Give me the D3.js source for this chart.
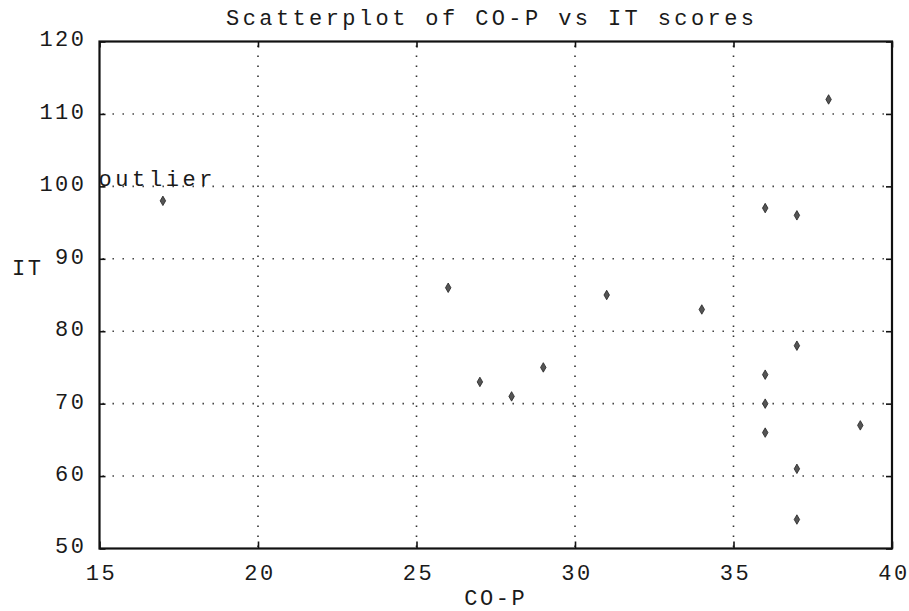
<!DOCTYPE html>
<html>
<head>
<meta charset="utf-8">
<script src="https://cdn.jsdelivr.net/npm/d3@7/dist/d3.min.js"></script>
<style>
  html, body { margin: 0; padding: 0; background: #fff; }
  svg { display: block; }
  text { font-family: "Liberation Mono", "Courier New", monospace; fill: #1a1a1a; }
</style>
</head>
<body>
<svg id="chart" width="909" height="611"></svg>
<script>
// ---- data ----
const coP = [17, 26, 27, 28, 29, 31, 34, 36, 36, 36, 36, 37, 37, 37, 37, 38, 39];
const itScores = [98, 86, 73, 71, 75, 85, 83, 97, 74, 70, 66, 96, 78, 61, 54, 112, 67];
const xTicks = [15, 20, 25, 30, 35, 40];
const yTicks = [50, 60, 70, 80, 90, 100, 110, 120];
const titleText = "Scatterplot of CO-P vs IT scores";
const xLabel = "CO-P";
const yLabel = "IT";
const annotation = { text: "outlier", x: 15, y: 100 };

// ---- layout ----
const svg = d3.select("#chart");
const L = 99.5, R = 892, T = 41.5, B = 548.5;
const x = d3.scaleLinear().domain([15, 40]).range([L, R]);
const y = d3.scaleLinear().domain([50, 120]).range([B, T]);

// gridlines (dotted)
const grid = svg.append("g").attr("stroke", "#333").attr("stroke-width", 1.6)
  .attr("stroke-dasharray", "1.4,8.6").attr("fill", "none");
grid.selectAll("line.gx").data(xTicks.slice(1, -1)).join("line")
  .attr("x1", d => x(d)).attr("x2", d => x(d)).attr("y1", T + 4).attr("y2", B);
grid.selectAll("line.gy").data(yTicks.slice(1, -1)).join("line")
  .attr("class", "gy")
  .attr("y1", d => y(d)).attr("y2", d => y(d)).attr("x1", L + 3).attr("x2", R);

// axes
const tickStyle = g => {
  g.select(".domain").remove();
  g.selectAll(".tick line").attr("stroke", "#111").attr("stroke-width", 1.6);
};
const fontTick = g => g.selectAll("text")
  .style("font-size", "22px").style("letter-spacing", "2.5px").attr("fill", "#1a1a1a");

svg.append("g").attr("transform", `translate(0,${B})`)
  .call(d3.axisBottom(x).tickValues(xTicks).tickSize(-7).tickPadding(16).tickFormat(d3.format("d")))
  .call(tickStyle).call(fontTick)
  .call(g => g.selectAll("text").attr("dx", "1.5px"));

svg.append("g").attr("transform", `translate(0,${T})`)
  .call(d3.axisTop(x).tickValues(xTicks).tickSize(-6).tickFormat(""))
  .call(tickStyle);

svg.append("g").attr("transform", `translate(${L},0)`)
  .call(d3.axisLeft(y).tickValues(yTicks).tickSize(-6).tickPadding(13).tickFormat(d3.format("d")))
  .call(tickStyle).call(fontTick)
  .call(g => g.selectAll("text").attr("dy", "0.2em"));

svg.append("g").attr("transform", `translate(${R},0)`)
  .call(d3.axisRight(y).tickValues(yTicks).tickSize(-6).tickFormat(""))
  .call(tickStyle);

// frame
svg.append("rect").attr("x", L).attr("y", T).attr("width", R - L).attr("height", B - T)
  .attr("fill", "none").attr("stroke", "#111").attr("stroke-width", 2.2);

// points
const sym = d3.symbol().type(d3.symbolDiamond).size(26);
svg.append("g").selectAll("path").data(coP.map((c, i) => [c, itScores[i]])).join("path")
  .attr("d", sym)
  .attr("transform", d => `translate(${x(d[0])},${y(d[1])})`)
  .attr("fill", "#555").attr("stroke", "#222").attr("stroke-width", 0.8);

// annotation
svg.append("text").attr("x", x(annotation.x) - 1).attr("y", y(annotation.y))
  .style("font-size", "22px").style("letter-spacing", "3.6px")
  .text(annotation.text);

// title
svg.append("text").attr("x", (L + R) / 2 - 4).attr("y", 25).attr("text-anchor", "middle")
  .style("font-size", "22px").style("letter-spacing", "3.4px")
  .text(titleText);

// axis labels
svg.append("text").attr("x", (L + R) / 2).attr("y", 605).attr("text-anchor", "middle")
  .style("font-size", "22px").style("letter-spacing", "2.5px")
  .text(xLabel);
svg.append("text").attr("x", 12).attr("y", 275)
  .style("font-size", "22px").style("letter-spacing", "2.5px")
  .text(yLabel);
</script>
</body>
</html>
